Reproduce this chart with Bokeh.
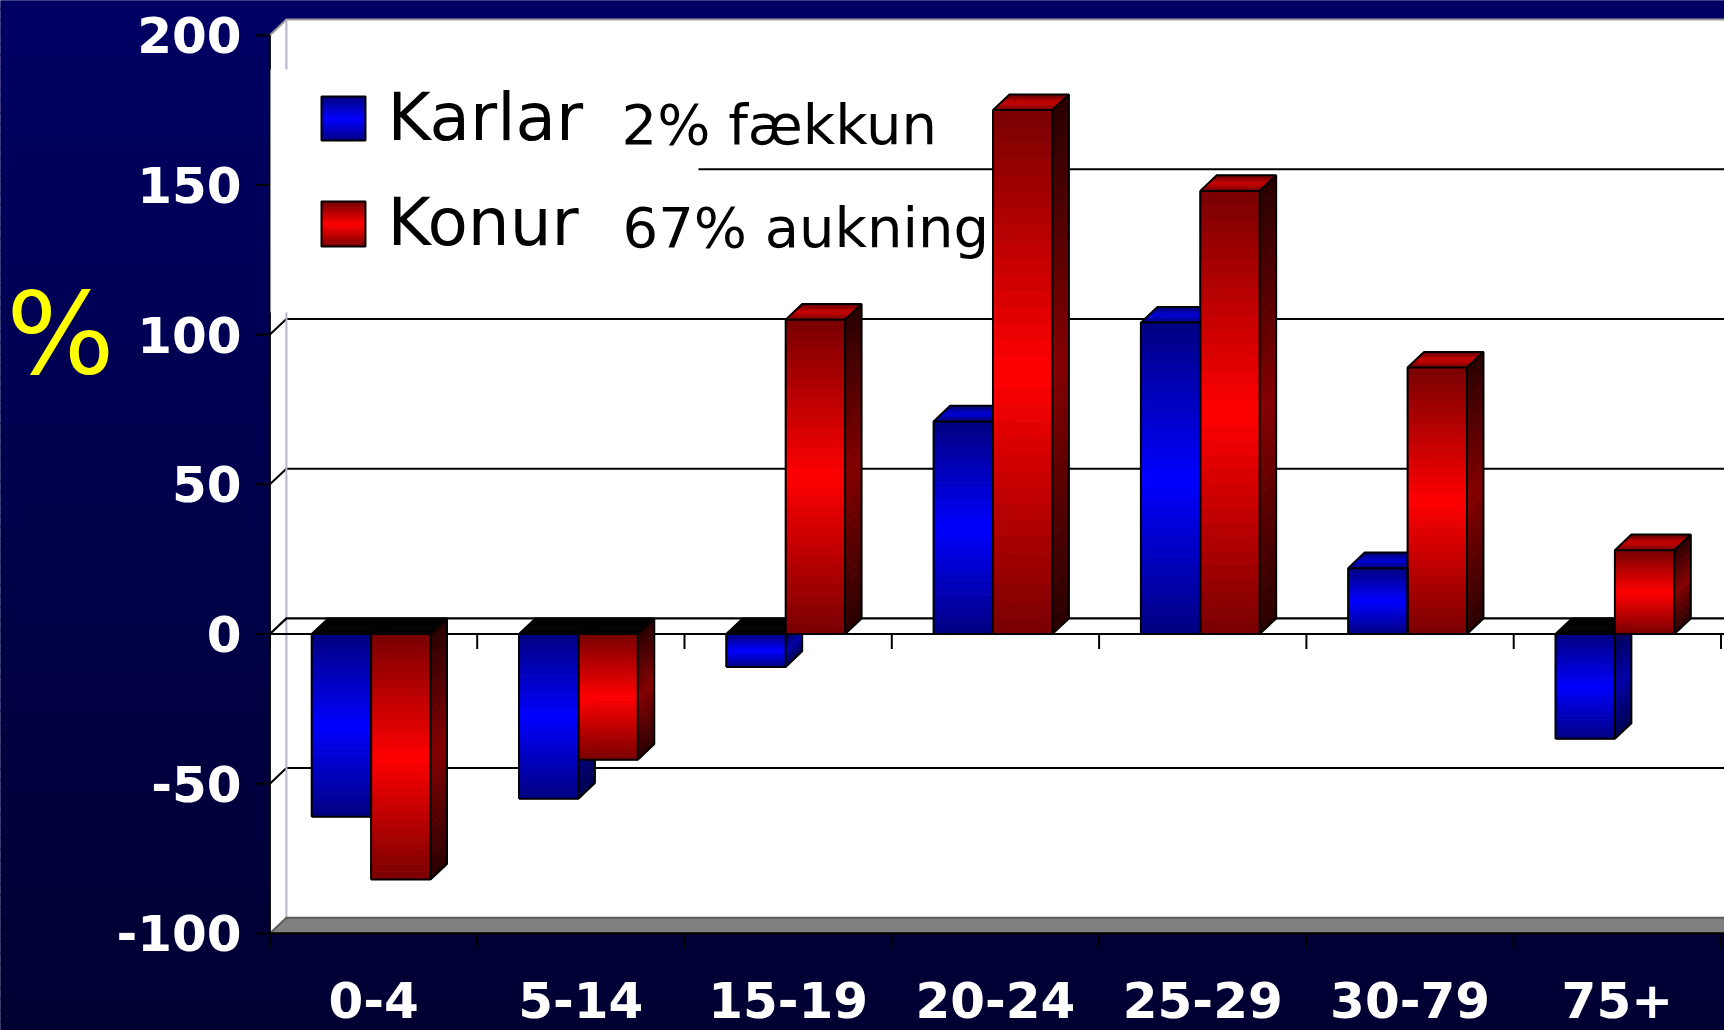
import numpy as np
from bokeh.plotting import figure
from bokeh.models import ColumnDataSource, Range1d
from bokeh.core.properties import value
from bokeh.embed import file_html
from bokeh.resources import INLINE

# ---------------- data ----------------
categories = ["0-4", "5-14", "15-19", "20-24", "25-29", "30-79", "75+"]
karlar = [-61, -55, -11, 71, 104, 22, -35]
konur = [-82, -42, 105, 175, 148, 89, 28]
y_ticks = [-100, -50, 0, 50, 100, 150, 200]
y_tick_labels = ["-100", "-50", "0", "50", "100", "150", "200"]
series_names = ["Karlar", "Konur"]
series_notes = ["2% fækkun", "67% aukning"]
axis_title = "%"

# ---------------- geometry ----------------
W, H = 1724, 1030
PX_X = 207.3      # pixels per category
PX_Y = 2.994      # pixels per value unit
X0_PAGE, Y0_PAGE = 269.4, 633.5


def xd(px):
    return (px - X0_PAGE) / PX_X


def yd(py):
    return (Y0_PAGE - py) / PX_Y


DX = 16.5 / PX_X
DY = 15.6 / PX_Y
YMIN, YMAX = y_ticks[0], y_ticks[-1]
XR = xd(W) + 0.2

p = figure(width=W, height=H,
           x_range=Range1d(xd(0), xd(W)),
           y_range=Range1d(yd(H), yd(0)),
           output_backend="svg", toolbar_location=None, min_border=0)
p.xaxis.visible = False
p.yaxis.visible = False
p.grid.visible = False
p.outline_line_color = None
p.background_fill_color = "#00004a"
p.border_fill_color = "#00004a"


def hex2rgb(c):
    c = c.lstrip("#")
    return [int(c[i:i + 2], 16) for i in (0, 2, 4)]


def mix(c1, c2, t):
    a, b = hex2rgb(c1), hex2rgb(c2)
    return "#%02x%02x%02x" % tuple(int(round(a[k] + (b[k] - a[k]) * t)) for k in range(3))


# ---------------- background gradient ----------------
NB = 90
edges = np.linspace(yd(H) - 1, yd(0) + 1, NB + 1)
bg_cols = [mix("#000032", "#000064", (k + 0.5) / NB) for k in range(NB)]
p.quad(left=xd(0) - 1, right=XR, bottom=edges[:-1], top=edges[1:],
       fill_color=bg_cols, line_color=bg_cols, line_width=1)

# ---------------- walls ----------------
p.quad(left=DX, right=XR, bottom=YMIN + DY, top=YMAX + DY,
       fill_color="white", line_color=None)
p.patch([0, DX, DX, 0], [YMIN, YMIN + DY, YMAX + DY, YMAX],
        fill_color="white", line_color=None)
p.patch([0, XR, XR, DX], [YMIN, YMIN, YMIN + DY, YMIN + DY],
        fill_color="#808080", line_color=None)

# back wall gridlines
grid_vals = [v for v in y_ticks if v not in (YMIN, 0, YMAX)]
p.multi_line(xs=[[0, DX, XR] for v in grid_vals],
             ys=[[v, v + DY, v + DY] for v in grid_vals],
             line_color="black", line_width=2)
# top edge, left wall edge, floor edge
p.multi_line(xs=[[0, DX, XR]], ys=[[YMAX, YMAX + DY, YMAX + DY]],
             line_color="#9a9a9a", line_width=2)
p.multi_line(xs=[[DX, DX]], ys=[[YMIN + DY, YMAX + DY]],
             line_color="#b4b4c8", line_width=2)
p.multi_line(xs=[[0, DX, XR]], ys=[[YMIN, YMIN + DY, YMIN + DY]],
             line_color="#5a5a5a", line_width=2)
# zero plane
p.multi_line(xs=[[0, DX, XR], [0, XR]], ys=[[0, DY, DY], [0, 0]],
             line_color="black", line_width=2.2)
# front bottom line
p.multi_line(xs=[[0, XR]], ys=[[YMIN, YMIN]], line_color="black", line_width=2.2)
# category ticks at zero and at bottom
tick_len_y = 15 / PX_Y
bx = list(range(len(categories) + 1))
p.segment(x0=bx, y0=[0] * len(bx), x1=bx, y1=[-tick_len_y] * len(bx),
          line_color="black", line_width=2)
p.segment(x0=bx, y0=[YMIN] * len(bx), x1=bx, y1=[YMIN - tick_len_y] * len(bx),
          line_color="black", line_width=2)
# value axis
p.segment(x0=[0], y0=[YMIN], x1=[0], y1=[YMAX], line_color="black", line_width=2)
p.segment(x0=[-14 / PX_X] * len(y_ticks), y0=y_ticks, x1=[0] * len(y_ticks), y1=y_ticks,
          line_color="black", line_width=2)

# ---------------- 3D bars ----------------
BAR_W = 0.2865
BAR_OFF = 0.2016
palette = {
    0: dict(front=("#0000ff", "#000080"), side=("#0000a8", "#000050"),
            top=("#0000d8", "#000070")),
    1: dict(front=("#ff0000", "#780000"), side=("#840000", "#2a0000"),
            top=("#cc0000", "#6a0000")),
}
NF, NT = 32, 8

front = dict(l=[], r=[], b=[], t=[], c=[])
side = dict(xs=[], ys=[], c=[])
top = dict(xs=[], ys=[], c=[])
o_front = dict(xs=[], ys=[])
o_side = dict(xs=[], ys=[])
o_top = dict(xs=[], ys=[])

for s, series in enumerate([karlar, konur]):
    pal = palette[s]
    for i, v in enumerate(series):
        x0 = i + BAR_OFF + s * BAR_W
        x1 = x0 + BAR_W
        lo, hi = min(0, v), max(0, v)
        e = np.linspace(lo, hi, NF + 1)
        for k in range(NF):
            t = abs(2 * (k + 0.5) / NF - 1)
            front["l"].append(x0); front["r"].append(x1)
            front["b"].append(e[k]); front["t"].append(e[k + 1])
            front["c"].append(mix(pal["front"][0], pal["front"][1], t))
            side["xs"].append([x1, x1 + DX, x1 + DX, x1])
            side["ys"].append([e[k], e[k] + DY, e[k + 1] + DY, e[k + 1]])
            side["c"].append(mix(pal["side"][0], pal["side"][1], t))
        f = np.linspace(0, 1, NT + 1)
        for m in range(NT):
            t = abs(2 * (m + 0.5) / NT - 1)
            a, b = f[m], f[m + 1]
            top["xs"].append([x0 + a * DX, x1 + a * DX, x1 + b * DX, x0 + b * DX])
            top["ys"].append([hi + a * DY, hi + a * DY, hi + b * DY, hi + b * DY])
            top["c"].append(mix(pal["top"][0], pal["top"][1], t) if v > 0 else "#000000")
        o_front["xs"].append([x0, x1, x1, x0, x0])
        o_front["ys"].append([lo, lo, hi, hi, lo])
        o_side["xs"].append([x1, x1 + DX, x1 + DX, x1])
        o_side["ys"].append([lo, lo + DY, hi + DY, hi])
        o_top["xs"].append([x0, x0 + DX, x1 + DX, x1])
        o_top["ys"].append([hi, hi + DY, hi + DY, hi])

p.patches(xs="xs", ys="ys", fill_color="c", line_color="c", line_width=1,
          source=ColumnDataSource(side))
p.multi_line(xs=o_side["xs"], ys=o_side["ys"], line_color="black", line_width=2)
p.patches(xs="xs", ys="ys", fill_color="c", line_color="c", line_width=1,
          source=ColumnDataSource(top))
p.multi_line(xs=o_top["xs"], ys=o_top["ys"], line_color="black", line_width=2)
p.quad(left="l", right="r", bottom="b", top="t", fill_color="c", line_color="c",
       line_width=1, source=ColumnDataSource(front))
p.multi_line(xs=o_front["xs"], ys=o_front["ys"], line_color="black", line_width=2)

# ---------------- legend ----------------
p.quad(left=xd(270), right=xd(698), bottom=yd(312), top=yd(69),
       fill_color="white", line_color=None)
sw_rows = [(96, 140), (201, 246)]
for s, (ty, by) in enumerate(sw_rows):
    pal = palette[s]["front"]
    e = np.linspace(yd(by), yd(ty), 17)
    cols = [mix(pal[0], pal[1], abs(2 * (k + 0.5) / 16 - 1)) for k in range(16)]
    p.quad(left=xd(321), right=xd(365), bottom=e[:-1], top=e[1:],
           fill_color=cols, line_color=cols, line_width=1)
    p.quad(left=xd(321), right=xd(365), bottom=yd(by), top=yd(ty),
           fill_color=None, line_color="black", line_width=2)

p.text(x=[xd(387)] * 2, y=[yd(117), yd(222)], text=series_names,
       text_font=value("DejaVu Sans"), text_font_size="66px",
       text_color="black", text_align="left", text_baseline="middle")
p.text(x=[xd(621), xd(622)], y=[yd(124), yd(227)], text=series_notes,
       text_font=value("DejaVu Sans"), text_font_size="56px",
       text_color="black", text_align="left", text_baseline="middle")

# ---------------- axis labels ----------------
p.text(x=[xd(241)] * len(y_ticks), y=y_ticks, text=y_tick_labels,
       text_font=value("DejaVu Sans"), text_font_size="50px", text_font_style="bold",
       text_color="white", text_align="right", text_baseline="middle")
p.text(x=[i + 0.5 for i in range(len(categories))], y=[yd(999)] * len(categories),
       text=categories, text_font=value("DejaVu Sans"), text_font_size="50px",
       text_font_style="bold",
       text_color="white", text_align="center", text_baseline="middle")
p.text(x=[xd(60)], y=[yd(333)], text=[axis_title],
       text_font=value("DejaVu Sans"), text_font_size="114px",
       text_color="#ffff00", text_align="center", text_baseline="middle")

open("out.html", "w").write(file_html(p, INLINE))
